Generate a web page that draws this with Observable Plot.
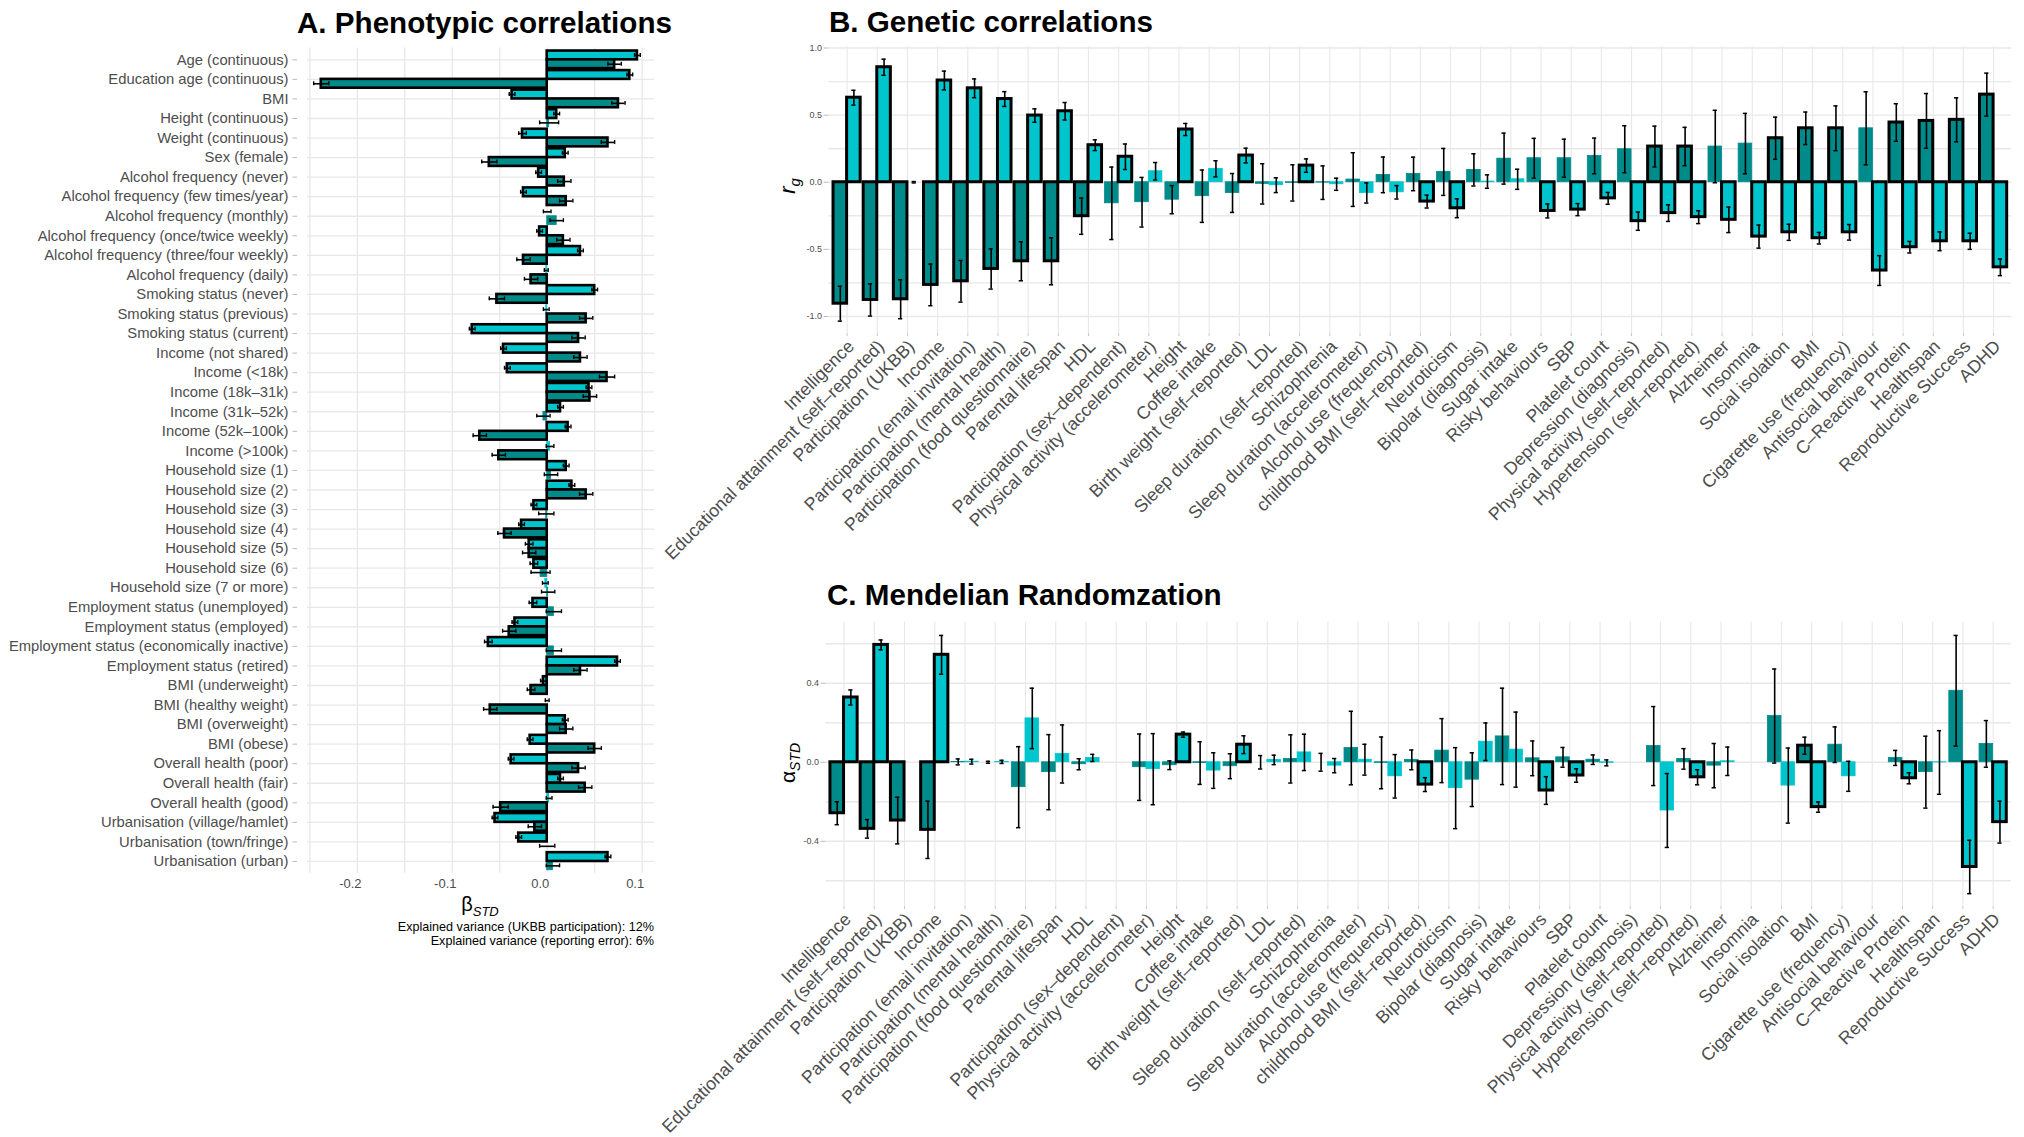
<!DOCTYPE html>
<html><head><meta charset="utf-8">
<script src="https://cdn.jsdelivr.net/npm/d3@7"></script>
<script src="https://cdn.jsdelivr.net/npm/@observablehq/plot@0.6"></script>
<style>
body{margin:0;background:#fff;font-family:"Liberation Sans",Arial,sans-serif;}
#root{position:relative;width:2024px;height:1137px;overflow:hidden;background:#fff;}
.pw{position:absolute;}
.title{position:absolute;font-weight:bold;font-size:29.6px;line-height:1;color:#000;white-space:nowrap;}
.note{position:absolute;font-size:12.6px;line-height:1;color:#000;white-space:nowrap;text-align:right;}
.ylab{position:absolute;white-space:nowrap;line-height:1;color:#000;transform:translate(-50%,-50%) rotate(-90deg);}
</style></head><body><div id="root"></div>
<script>
// ---------------- DATA ----------------
const phenoLabels = ["Age (continuous)","Education age (continuous)","BMI","Height (continuous)","Weight (continuous)","Sex (female)","Alcohol frequency (never)","Alcohol frequency (few times/year)","Alcohol frequency (monthly)","Alcohol frequency (once/twice weekly)","Alcohol frequency (three/four weekly)","Alcohol frequency (daily)","Smoking status (never)","Smoking status (previous)","Smoking status (current)","Income (not shared)","Income (<18k)","Income (18k–31k)","Income (31k–52k)","Income (52k–100k)","Income (>100k)","Household size (1)","Household size (2)","Household size (3)","Household size (4)","Household size (5)","Household size (6)","Household size (7 or more)","Employment status (unemployed)","Employment status (employed)","Employment status (economically inactive)","Employment status (retired)","BMI (underweight)","BMI (healthy weight)","BMI (overweight)","BMI (obese)","Overall health (poor)","Overall health (fair)","Overall health (good)","Urbanisation (village/hamlet)","Urbanisation (town/fringe)","Urbanisation (urban)"];
// cyan series (UKBB participation)
const phenoPart = [0.095,0.087,-0.037,0.010,-0.026,0.019,-0.009,-0.025,0.000,-0.008,0.035,-0.001,0.050,-0.001,-0.079,-0.046,-0.042,0.044,0.014,0.022,0.003,0.020,0.026,-0.014,-0.027,-0.019,-0.014,-0.002,-0.015,-0.034,-0.062,0.074,-0.004,0.000,0.019,-0.018,-0.038,0.014,0.002,-0.055,-0.030,0.064];
const phenoPartErr = [0.003,0.003,0.003,0.003,0.004,0.003,0.003,0.003,0.004,0.003,0.003,0.002,0.003,0.003,0.003,0.003,0.003,0.003,0.003,0.003,0.004,0.003,0.003,0.003,0.003,0.004,0.004,0.003,0.004,0.003,0.004,0.003,0.003,0.002,0.003,0.003,0.003,0.003,0.003,0.003,0.003,0.003];
const phenoPartSig = [1,1,1,1,1,1,1,1,0,1,1,0,1,0,1,1,1,1,1,1,0,1,1,1,1,1,1,0,1,1,1,1,1,0,1,1,1,1,0,1,1,1];
// dark series (reporting error)
const phenoRep = [0.071,-0.238,0.075,0.002,0.064,-0.061,0.018,0.020,0.010,0.017,-0.025,-0.017,-0.053,0.041,0.033,0.035,0.063,0.045,-0.004,-0.071,-0.051,0.004,0.041,-0.001,-0.045,-0.019,-0.007,0.001,0.007,-0.040,0.007,0.035,-0.017,-0.060,0.020,0.050,0.033,0.040,-0.049,-0.013,0.000,0.006];
const phenoRepErr = [0.007,0.008,0.007,0.010,0.007,0.008,0.007,0.007,0.007,0.007,0.007,0.007,0.008,0.007,0.007,0.007,0.008,0.007,0.007,0.007,0.007,0.007,0.007,0.008,0.007,0.007,0.010,0.007,0.008,0.007,0.008,0.007,0.004,0.007,0.007,0.007,0.007,0.007,0.008,0.007,0.008,0.007];
const phenoRepSig = [1,1,1,0,1,1,1,1,0,1,1,1,1,1,1,1,1,1,0,1,1,0,1,0,1,1,0,0,0,1,0,1,1,1,1,1,1,1,1,1,0,0];
const phenoTicks = [-0.2,-0.1,0,0.1];
const phenoGrid = [-0.25,-0.2,-0.15,-0.1,-0.05,0,0.05,0.1];

const traitLabels = ["Intelligence","Educational attainment (self–reported)","Participation (UKBB)","Income","Participation (email invitation)","Participation (mental health)","Participation (food questionnaire)","Parental lifespan","HDL","Participation (sex–dependent)","Physical activity (accelerometer)","Height","Coffee intake","Birth weight (self–reported)","LDL","Sleep duration (self–reported)","Schizophrenia","Sleep duration (accelerometer)","Alcohol use (frequency)","childhood BMI (self–reported)","Neuroticism","Bipolar (diagnosis)","Sugar intake","Risky behaviours","SBP","Platelet count","Depression (diagnosis)","Physical activity (self–reported)","Hypertension (self–reported)","Alzheimer","Insomnia","Social isolation","BMI","Cigarette use (frequency)","Antisocial behaviour","C–Reactive Protein","Healthspan","Reproductive Success","ADHD"];

// B. genetic correlations
const rgDark = [-0.905,-0.877,-0.872,-0.765,-0.738,-0.646,-0.589,-0.589,-0.253,-0.157,-0.149,-0.130,-0.104,-0.080,-0.012,-0.005,-0.003,0.020,0.055,0.062,0.077,0.092,0.176,0.179,0.179,0.196,0.246,0.266,0.266,0.266,0.288,0.328,0.402,0.402,0.402,0.445,0.457,0.465,0.653];
const rgDarkErr = [0.13,0.12,0.145,0.155,0.155,0.15,0.145,0.175,0.135,0.27,0.185,0.105,0.195,0.145,0.15,0.135,0.125,0.20,0.133,0.125,0.175,0.12,0.19,0.148,0.142,0.133,0.175,0.152,0.143,0.27,0.225,0.157,0.121,0.167,0.272,0.14,0.204,0.164,0.16];
const rgDarkSig = [1,1,1,1,1,1,1,1,1,0,0,0,0,0,0,0,0,0,0,0,0,0,0,0,0,0,0,1,1,0,0,1,1,1,0,1,1,1,1];
const rgCyan = [0.63,0.857,0.0,0.758,0.70,0.62,0.497,0.529,0.276,0.19,0.082,0.393,0.10,0.199,-0.022,0.124,-0.015,-0.08,-0.075,-0.144,-0.194,0.005,0.022,-0.214,-0.204,-0.12,-0.29,-0.23,-0.26,-0.28,-0.405,-0.373,-0.417,-0.373,-0.658,-0.484,-0.44,-0.44,-0.634];
const rgCyanErr = [0.055,0.06,0.005,0.07,0.07,0.055,0.05,0.065,0.04,0.095,0.065,0.045,0.06,0.055,0.055,0.05,0.045,0.075,0.05,0.048,0.07,0.05,0.075,0.052,0.045,0.044,0.068,0.062,0.048,0.095,0.086,0.06,0.043,0.058,0.111,0.043,0.07,0.06,0.062];
const rgCyanSig = [1,1,0,1,1,1,1,1,1,1,0,1,0,1,0,1,0,0,0,1,1,0,0,1,1,1,1,1,1,1,1,1,1,1,1,1,1,1,1];
const rgTicks = [-1,-0.5,0,0.5,1];
const rgGrid = [-1,-0.75,-0.5,-0.25,0,0.25,0.5,0.75,1];

// C. Mendelian randomization
const mrDark = [-0.258,-0.337,-0.295,-0.342,0.002,0.0,-0.126,-0.05,-0.01,0,-0.025,-0.015,-0.004,-0.02,0.0,0.017,0.0,0.072,-0.003,0.012,0.059,-0.088,0.131,0.02,0.025,0.013,0,0.082,0.017,-0.017,0,0.234,0.084,0.089,0,0.022,-0.05,0.362,0.093];
const mrDarkErr = [0.058,0.047,0.118,0.145,0.015,0.005,0.205,0.19,0.028,0,0.168,0.022,0.108,0.063,0.034,0.122,0.045,0.186,0.131,0.05,0.162,0.136,0.244,0.088,0.05,0.024,0,0.2,0.052,0.112,0,0.238,0.043,0.09,0,0.038,0.182,0.28,0.118];
const mrDarkSig = [1,1,1,1,0,0,0,0,0,0,0,0,0,0,0,0,0,0,0,0,0,0,0,0,0,0,0,0,0,0,0,0,1,0,0,0,0,0,0];
const mrCyan = [0.328,0.594,0.0,0.544,0.003,0.002,0.222,0.042,0.022,0,-0.035,0.14,-0.042,0.089,0.012,0.05,-0.017,0.013,-0.071,-0.113,-0.131,0.104,0.064,-0.143,-0.067,-0.003,0,-0.244,-0.076,0.005,0,-0.118,-0.227,-0.071,0,-0.081,-0.001,-0.53,-0.303];
const mrCyanErr = [0.038,0.025,0,0.098,0.012,0.008,0.153,0.147,0.018,0,0.18,0.013,0.09,0.045,0.024,0.092,0.036,0.078,0.11,0.035,0.205,0.095,0.19,0.07,0.034,0.015,0,0.187,0.038,0.072,0,0.19,0.026,0.076,0,0.028,0.161,0.135,0.106];
const mrCyanSig = [1,1,1,1,0,0,0,0,0,0,0,1,0,1,0,0,0,0,0,1,0,0,0,1,1,0,0,0,1,0,0,0,1,0,0,1,0,1,1];
const mrTicks = [-0.4,0,0.4];
const mrGrid = [-0.6,-0.4,-0.2,0,0.2,0.4,0.6];

// ---------------- STYLE ----------------
const CYAN = "#00C5CD", DARK = "#008B8B";
const GRID = "#E8E8E8", AXT = "#4D4D4D";
const FONT = "'Liberation Sans', Arial, Helvetica, sans-serif";
const fmt1 = d => (d < 0 ? "-" : "") + Math.abs(d).toFixed(1);
const root = document.getElementById("root");

function place(el, left, top) {
  const w = document.createElement("div");
  w.className = "pw"; w.style.left = left + "px"; w.style.top = top + "px";
  w.appendChild(el); root.appendChild(w);
}
function div(cls, html, css) {
  const d = document.createElement("div");
  d.className = cls; d.innerHTML = html; Object.assign(d.style, css); root.appendChild(d);
}

// ---------------- PANEL A ----------------
(function () {
  const W = 660, H = 960;
  const X0 = -0.2525, X1 = 0.113;
  const mL = 307, mR = W - 654, mT = 47.6, mB = H - 872.7;
  const pxPerX = (W - mL - mR) / (X1 - X0);
  const idx = phenoLabels.map((_, k) => k + 1);
  const recs = [];
  phenoLabels.forEach((lab, k) => {
    const i = k + 1;
    recs.push({s: "c", y1: i - 0.45, y2: i, yc: i - 0.225, v: phenoPart[k], e: phenoPartErr[k], sig: phenoPartSig[k]});
    recs.push({s: "d", y1: i, y2: i + 0.45, yc: i + 0.225, v: phenoRep[k], e: phenoRepErr[k], sig: phenoRepSig[k]});
  });
  const bar = (s, sig) => {
    const col = s === "c" ? CYAN : DARK;
    return Plot.rect(recs.filter(d => d.s === s && d.sig === sig), {
      x1: 0, x2: "v", y1: "y1", y2: "y2", fill: col,
      stroke: sig ? "black" : col, strokeWidth: sig ? 2.6 : 0.8
    });
  };
  const er = recs.filter(d => d.e > 0);
  const svg = Plot.plot({
    width: W, height: H, marginLeft: mL, marginRight: mR, marginTop: mT, marginBottom: mB,
    x: {domain: [X0, X1], axis: null},
    y: {domain: [0.4, 42.6], reverse: true, axis: null},
    style: {fontFamily: FONT, background: "transparent", overflow: "visible", maxWidth: "none"},
    marks: [
      Plot.ruleY(idx, {y: d => d, stroke: GRID, strokeWidth: 1.3}),
      Plot.ruleX(phenoGrid, {x: d => d, stroke: GRID, strokeWidth: 1.3}),
      Plot.ruleY(idx, {y: d => d, x1: X0 - 14.5 / pxPerX, x2: X0 - 10 / pxPerX, stroke: "#BBBBBB", strokeWidth: 1}),
      Plot.text(idx, {x: X0, y: d => d, text: d => phenoLabels[d - 1], textAnchor: "end", dx: -19, fontSize: 14.8, fill: AXT}),
      Plot.text(phenoTicks, {x: d => d, y: 42.6, text: fmt1, dy: 11, dx: -7, fontSize: 13, fill: AXT}),
      bar("c", 0), bar("d", 0), bar("c", 1), bar("d", 1),
      Plot.ruleY(er, {y: "yc", x1: d => d.v - d.e, x2: d => d.v + d.e, stroke: "black", strokeWidth: 1.6}),
      Plot.ruleX(er, {x: d => d.v - d.e, y1: d => d.yc - 0.1, y2: d => d.yc + 0.1, stroke: "black", strokeWidth: 1.4}),
      Plot.ruleX(er, {x: d => d.v + d.e, y1: d => d.yc - 0.1, y2: d => d.yc + 0.1, stroke: "black", strokeWidth: 1.4})
    ]
  });
  place(svg, 0, 0);
})();

// ---------------- PANELS B & C ----------------
function barPanel(o) {
  const n = traitLabels.length;
  const idx = traitLabels.map((_, k) => k + 1);
  const [Y0, Y1] = o.yDomain;
  const plotH = o.H - o.mT - o.mB, plotW = o.W - o.mL - o.mR;
  const pxPerY = plotH / (Y1 - Y0), pxPerX = plotW / (n + 0.2 - 0.4 + 0.2 - 0.2 + 0.0 + 38.6 - n + 0.0 + (n - 38.6) ) ;
  const pxX = plotW / (39.6 - 0.4);
  const recs = [];
  traitLabels.forEach((lab, k) => {
    const i = k + 1;
    recs.push({s: "d", x1: i - 0.45, x2: i, xc: i - 0.225, v: o.dark[k], e: o.darkErr[k], sig: o.darkSig[k]});
    recs.push({s: "c", x1: i, x2: i + 0.45, xc: i + 0.225, v: o.cyan[k], e: o.cyanErr[k], sig: o.cyanSig[k]});
  });
  const bar = (s, sig) => {
    const col = s === "c" ? CYAN : DARK;
    return Plot.rect(recs.filter(d => d.s === s && d.sig === sig), {
      x1: "x1", x2: "x2", y1: 0, y2: "v", fill: col,
      stroke: sig ? "black" : col, strokeWidth: sig ? 3 : 0.8
    });
  };
  const er = recs.filter(d => d.e > 0);
  const cap = 0.07;
  return Plot.plot({
    width: o.W, height: o.H, marginLeft: o.mL, marginRight: o.mR, marginTop: o.mT, marginBottom: o.mB,
    x: {domain: [0.4, 39.6], axis: null},
    y: {domain: o.yDomain, axis: null},
    style: {fontFamily: FONT, background: "transparent", overflow: "visible", maxWidth: "none"},
    marks: [
      Plot.ruleY(o.grid, {y: d => d, stroke: GRID, strokeWidth: 1.4}),
      Plot.ruleX(idx, {x: d => d, stroke: GRID, strokeWidth: 1.1}),
      Plot.ruleX(idx, {x: d => d, y1: Y0, y2: Y0 - 3 / pxPerY, stroke: "#C8C8C8", strokeWidth: 1}),
      Plot.ruleY(o.ticks, {y: d => d, x1: 0.4 - 5 / pxX, x2: 0.4, stroke: "#BBBBBB", strokeWidth: 1}),
      Plot.text(o.ticks, {x: 0.4, y: d => d, text: fmt1, textAnchor: "end", dx: -7, fontSize: 9, fill: AXT}),
      Plot.text(idx, {x: d => d, y: Y0, text: d => traitLabels[d - 1], rotate: -45, textAnchor: "end", dx: 4, dy: 10, fontSize: 17.8, fill: AXT}),
      bar("d", 0), bar("c", 0), bar("d", 1), bar("c", 1),
      Plot.ruleX(er, {x: "xc", y1: d => d.v - d.e, y2: d => d.v + d.e, stroke: "black", strokeWidth: 1.6}),
      Plot.ruleY(er, {y: d => d.v - d.e, x1: d => d.xc - cap, x2: d => d.xc + cap, stroke: "black", strokeWidth: 1.5}),
      Plot.ruleY(er, {y: d => d.v + d.e, x1: d => d.xc - cap, x2: d => d.xc + cap, stroke: "black", strokeWidth: 1.5})
    ]
  });
}

place(barPanel({
  W: 1264, H: 575, mL: 828.5 - 760, mR: 2024 - 2011.2, mT: 46.6, mB: 575 - 333,
  yDomain: [-1.127, 1.007], ticks: rgTicks, grid: rgGrid,
  dark: rgDark, darkErr: rgDarkErr, darkSig: rgDarkSig,
  cyan: rgCyan, cyanErr: rgCyanErr, cyanSig: rgCyanSig
}), 760, 0);

place(barPanel({
  W: 1264, H: 562, mL: 825.4 - 760, mR: 2024 - 2010.8, mT: 621.7 - 575, mB: 562 - (906 - 575),
  yDomain: [-0.73, 0.709], ticks: mrTicks, grid: mrGrid,
  dark: mrDark, darkErr: mrDarkErr, darkSig: mrDarkSig,
  cyan: mrCyan, cyanErr: mrCyanErr, cyanSig: mrCyanSig
}), 760, 575);

// ---------------- TEXT ----------------
div("title", "A. Phenotypic correlations", {left: "297px", top: "7.5px"});
div("title", "B. Genetic correlations", {left: "829px", top: "7.3px"});
div("title", "C. Mendelian Randomzation", {left: "827px", top: "580px"});
div("note", "Explained variance (UKBB participation): 12%", {right: (2024 - 654) + "px", top: "921px"});
div("note", "Explained variance (reporting error): 6%", {right: (2024 - 654) + "px", top: "935px"});
div("ylab", '<span style="font-size:20px">β</span><span style="font-size:13px;font-style:italic;position:relative;top:5px">STD</span>',
    {left: "480px", top: "904px", transform: "translate(-50%,-50%)"});
div("ylab", '<span style="font-size:22px;font-style:italic">r</span><span style="font-size:15px;font-style:italic;position:relative;top:5px">g</span>',
    {left: "788px", top: "186px"});
div("ylab", '<span style="font-size:21px">α</span><span style="font-size:14px;font-style:italic;position:relative;top:5px">STD</span>',
    {left: "787px", top: "763px"});
</script></body></html>
